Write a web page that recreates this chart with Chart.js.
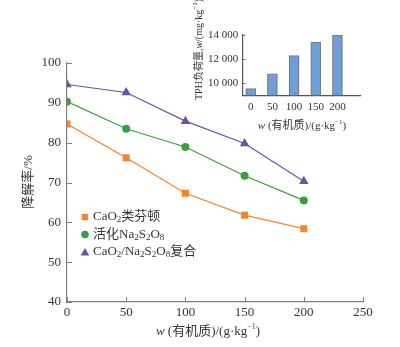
<!DOCTYPE html>
<html>
<head>
<meta charset="utf-8">
<script src="https://cdn.jsdelivr.net/npm/chart.js@4/dist/chart.umd.min.js"></script>
<style>
  html, body { margin: 0; padding: 0; background: #fff; }
  #wrap { position: relative; width: 400px; height: 347px; }
  #main { position: absolute; left: 0; top: 0; }
  #inset { position: absolute; left: 185px; top: 0; }
</style>
</head>
<body>
<div id="wrap">
  <canvas id="main" width="400" height="347"></canvas>
  <canvas id="inset" width="185" height="140"></canvas>
</div>
<script>
// organic matter loading, g/kg
const loadings = [0, 50, 100, 150, 200];
// degradation rate, %
const fentonRate = [84.7, 76.2, 67.3, 61.8, 58.4];
const persulfateRate = [90.3, 83.5, 78.9, 71.7, 65.5];
const combinedRate = [94.6, 92.6, 85.4, 79.8, 70.3];
// inset: TPH loading, mg/kg
const tphLoad = [9570, 10800, 12300, 13420, 14000];
const insetTicks = [10000, 12000, 14000];

const SERIF = '"Liberation Serif", "Noto Sans CJK SC", serif';
const TEXT = "#333";
const AXIS = "#808080";

const seriesColors = ["#f5852c", "#3d9c40", "#6a52a8"];
const seriesStyles = ["rect", "circle", "triangle"];
const seriesRadius = [5, 4, 5.5];

// draws a run of text pieces, each with its own font and vertical shift
function drawRich(ctx, parts, x, y, align) {
  let total = 0;
  for (const p of parts) {
    ctx.font = p.font;
    total += ctx.measureText(p.t).width;
  }
  let cx = align === "center" ? x - total / 2 : x;
  ctx.textBaseline = "middle";
  ctx.textAlign = "left";
  for (const p of parts) {
    ctx.font = p.font;
    ctx.fillText(p.t, cx, y + (p.dy || 0));
    cx += ctx.measureText(p.t).width;
  }
}

function inwardTicks(ctx, chart, len) {
  const x = chart.scales.x, y = chart.scales.y;
  ctx.strokeStyle = AXIS;
  ctx.lineWidth = 1;
  ctx.beginPath();
  for (const t of x.ticks) {
    const px = Math.round(x.getPixelForValue(t.value)) + 0.5;
    ctx.moveTo(px, y.bottom);
    ctx.lineTo(px, y.bottom - len);
  }
  for (const t of y.ticks) {
    const py = Math.round(y.getPixelForValue(t.value)) + 0.5;
    ctx.moveTo(x.left, py);
    ctx.lineTo(x.left + len, py);
  }
  ctx.stroke();
}

const sub = (t) => ({ t, font: "9px " + SERIF, dy: 3 });
const sup = (t) => ({ t, font: "8px " + SERIF, dy: -5 });

const legendRows = [
  [{ t: "CaO", font: "13px " + SERIF }, sub("2"), { t: "类芬顿", font: "13px " + SERIF }],
  [{ t: "活化Na", font: "13px " + SERIF }, sub("2"), { t: "S", font: "13px " + SERIF }, sub("2"),
   { t: "O", font: "13px " + SERIF }, sub("8")],
  [{ t: "CaO", font: "13px " + SERIF }, sub("2"), { t: "/Na", font: "13px " + SERIF }, sub("2"),
   { t: "S", font: "13px " + SERIF }, sub("2"), { t: "O", font: "13px " + SERIF }, sub("8"),
   { t: "复合", font: "13px " + SERIF }]
];

const mainDecor = {
  id: "mainDecor",
  afterDraw(chart) {
    const ctx = chart.ctx;
    ctx.save();
    inwardTicks(ctx, chart, 5);
    ctx.fillStyle = TEXT;
    // x title
    drawRich(ctx, [
      { t: "w", font: "italic 13px " + SERIF },
      { t: " (有机质)/(g·kg", font: "13px " + SERIF },
      sup("−1"),
      { t: ")", font: "13px " + SERIF }
    ], 208, 332, "center");
    // y title
    ctx.translate(29, 182);
    ctx.rotate(-Math.PI / 2);
    drawRich(ctx, [{ t: "降解率/%", font: "13px " + SERIF }], 0, 0, "center");
    ctx.restore();

    // legend
    ctx.save();
    legendRows.forEach((row, i) => {
      const y = 217 + i * 17.5;
      ctx.fillStyle = seriesColors[i];
      Chart.helpers.drawPoint(ctx, {
        pointStyle: seriesStyles[i], radius: [4.5, 3.8, 5][i], rotation: 0, borderWidth: 0
      }, 85, i === 2 ? y + 1 : y);
      ctx.fillStyle = TEXT;
      drawRich(ctx, row, 93, y, "left");
    });
    ctx.restore();
  }
};

const mainDatasets = [fentonRate, persulfateRate, combinedRate].map((vals, i) => ({
  data: loadings.map((x, k) => ({ x, y: vals[k] })),
  borderColor: seriesColors[i],
  backgroundColor: seriesColors[i],
  borderWidth: 1.2,
  pointStyle: seriesStyles[i],
  pointRadius: seriesRadius[i],
  pointBorderWidth: 0,
  tension: 0
}));

new Chart(document.getElementById("main"), {
  type: "line",
  data: { datasets: mainDatasets },
  options: {
    responsive: false,
    animation: false,
    layout: { padding: { left: 0, right: 37, top: 63, bottom: 0 } },
    plugins: { legend: { display: false }, tooltip: { enabled: false } },
    scales: {
      x: {
        type: "linear", min: 0, max: 250,
        ticks: { stepSize: 50, color: TEXT, font: { family: SERIF, size: 13 }, padding: 3 },
        grid: { display: false, drawTicks: false },
        border: { color: AXIS, width: 1.2 },
        afterFit: (s) => { s.height = 45; }
      },
      y: {
        min: 40, max: 100,
        ticks: { stepSize: 10, color: TEXT, font: { family: SERIF, size: 13 }, padding: 6 },
        grid: { display: false, drawTicks: false },
        border: { color: AXIS, width: 1.2 },
        afterFit: (s) => { s.width = 67; }
      }
    }
  },
  plugins: [mainDecor]
});

const insetDecor = {
  id: "insetDecor",
  afterDraw(chart) {
    const ctx = chart.ctx;
    ctx.save();
    inwardTicks(ctx, chart, 3);
    ctx.fillStyle = TEXT;
    drawRich(ctx, [
      { t: "w", font: "italic 11px " + SERIF },
      { t: " (有机质)/(g·kg", font: "11px " + SERIF },
      { t: "−1", font: "7px " + SERIF, dy: -4 },
      { t: ")", font: "11px " + SERIF }
    ], 117, 126, "center");
    ctx.translate(14, 100);
    ctx.rotate(-Math.PI / 2);
    drawRich(ctx, [
      { t: "TPH负荷量,", font: "10px " + SERIF },
      { t: "w", font: "italic 10px " + SERIF },
      { t: "/(mg·kg", font: "10px " + SERIF },
      { t: "−1", font: "7px " + SERIF, dy: -4 },
      { t: ")", font: "10px " + SERIF }
    ], 0, 0, "left");
    ctx.restore();
  }
};

new Chart(document.getElementById("inset"), {
  type: "bar",
  data: {
    datasets: [{
      data: loadings.map((x, k) => ({ x, y: tphLoad[k] })),
      backgroundColor: "#6f9fdb",
      borderColor: "#7a7a7a",
      borderWidth: 1.2,
      borderSkipped: "bottom",
      barThickness: 10,
      base: 9000
    }]
  },
  options: {
    responsive: false,
    animation: false,
    layout: { padding: { left: 0, right: 10, top: 35, bottom: 0 } },
    plugins: { legend: { display: false }, tooltip: { enabled: false } },
    scales: {
      x: {
        type: "linear", min: -18.5, max: 252, offset: false,
        afterBuildTicks: (s) => { s.ticks = loadings.map((v) => ({ value: v })); },
        ticks: { color: TEXT, font: { family: SERIF, size: 11 }, padding: 5 },
        grid: { display: false, drawTicks: false },
        border: { color: "#555", width: 1.2 },
        afterFit: (s) => { s.height = 44.5; }
      },
      y: {
        min: 9000, max: 14000,
        afterBuildTicks: (s) => { s.ticks = insetTicks.map((v) => ({ value: v })); },
        ticks: {
          color: TEXT, font: { family: SERIF, size: 11 }, padding: 4.5,
          callback: (v) => String(v).replace(/(\d+)(\d{3})$/, "$1 $2")
        },
        grid: { display: false, drawTicks: false },
        border: { color: "#555", width: 1.2 },
        afterFit: (s) => { s.width = 57.7; }
      }
    }
  },
  plugins: [insetDecor]
});
</script>
</body>
</html>
